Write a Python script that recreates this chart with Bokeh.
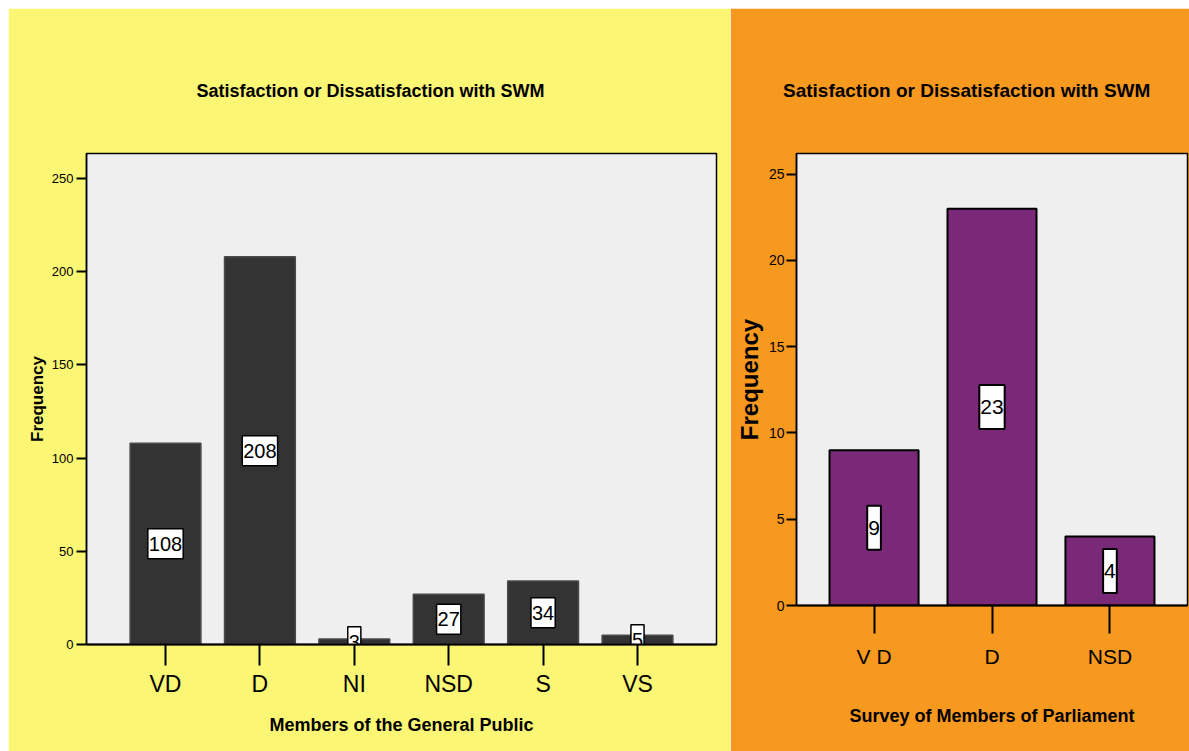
from bokeh.plotting import figure
from bokeh.models import FactorRange, Range1d, ColumnDataSource, FixedTicker, Title
from bokeh.layouts import row, column
from bokeh.embed import file_html
from bokeh.resources import INLINE
from bokeh.core.properties import value

# ---- data ----
public_cats = ["VD", "D", "NI", "NSD", "S", "VS"]
public_counts = [108, 208, 3, 27, 34, 5]
mp_cats = ["V D", "D", "NSD"]
mp_counts = [9, 23, 4]
public_yticks = [0, 50, 100, 150, 200, 250]
mp_yticks = [0, 5, 10, 15, 20, 25]
title_text = "Satisfaction or Dissatisfaction with SWM"
public_xlabel = "Members of the General Public"
mp_xlabel = "Survey of Members of Parliament"
ylabel = "Frequency"

FONT = "Liberation Sans"

YELLOW = "#FBF674"
ORANGE = "#F7981F"
FRAME_BG = "#EFEFEF"
PURPLE = "#7A2878"


def style_axes(p, xfs, yfs, xtick_out):
    p.xgrid.grid_line_color = None
    p.ygrid.grid_line_color = None
    p.outline_line_color = "black"
    p.outline_line_width = 1.5
    xa = p.xaxis[0]
    ya = p.yaxis[0]
    xa.axis_line_color = "black"
    xa.axis_line_width = 2
    xa.major_tick_line_color = "black"
    xa.major_tick_line_width = 2
    xa.major_tick_out = xtick_out
    xa.major_tick_in = 0
    xa.minor_tick_line_color = None
    xa.major_label_text_font = FONT
    xa.major_label_text_font_size = xfs
    xa.major_label_text_color = "black"
    ya.axis_line_color = "black"
    ya.axis_line_width = 1.5
    ya.major_tick_line_color = "black"
    ya.major_tick_line_width = 2
    ya.major_tick_out = 10
    ya.major_tick_in = 0
    ya.minor_tick_line_color = None
    ya.major_label_text_font = FONT
    ya.major_label_text_font_size = yfs
    ya.major_label_text_color = "black"


# ---- left: general public ----
src1 = ColumnDataSource(dict(
    cat=public_cats,
    count=public_counts,
    mid=[c / 2 for c in public_counts],
    lab=[str(c) for c in public_counts],
))

p1 = figure(
    width=722, height=743,
    x_range=FactorRange(factors=public_cats, range_padding=0.337, range_padding_units="absolute"),
    y_range=Range1d(0, 263.4),
    output_backend="svg", toolbar_location=None,
    min_border_left=78, min_border_right=14, min_border_top=145, min_border_bottom=107,
    background_fill_color=FRAME_BG, border_fill_color=YELLOW,
)
p1.title = Title(text=title_text, align="left", offset=110, standoff=106,
                 text_font=FONT, text_font_size="18px", text_font_style="bold",
                 text_color="black")
p1.vbar(x="cat", top="count", width=0.75, source=src1,
        fill_color="#333333", line_color="#4a4a4a", line_width=1.5)
p1.text(x="cat", y="mid", text="lab", source=src1,
        text_align="center", text_baseline="middle",
        text_font=value(FONT), text_font_size="20px", text_color="black",
        background_fill_color="white", border_line_color="black", border_line_width=1.5,
        padding=(1, 1, 8, 8))
style_axes(p1, "23px", "13px", 21)
p1.yaxis[0].ticker = FixedTicker(ticks=public_yticks)
p1.xaxis[0].major_label_standoff = 5
p1.xaxis[0].axis_label = public_xlabel
p1.xaxis[0].axis_label_text_font = FONT
p1.xaxis[0].axis_label_text_font_size = "18px"
p1.xaxis[0].axis_label_text_font_style = "bold"
p1.xaxis[0].axis_label_text_color = "black"
p1.xaxis[0].axis_label_standoff = 15
p1.yaxis[0].major_label_standoff = 3
p1.yaxis[0].axis_label = ylabel
p1.yaxis[0].axis_label_text_font = FONT
p1.yaxis[0].axis_label_text_font_size = "17px"
p1.yaxis[0].axis_label_text_font_style = "bold"
p1.yaxis[0].axis_label_text_color = "black"
p1.yaxis[0].axis_label_standoff = 2

# ---- right: members of parliament ----
src2 = ColumnDataSource(dict(
    cat=mp_cats,
    count=mp_counts,
    mid=[c / 2 for c in mp_counts],
    lab=[str(c) for c in mp_counts],
))

p2 = figure(
    width=459, height=743,
    x_range=FactorRange(factors=mp_cats, range_padding=0.1575, range_padding_units="absolute"),
    y_range=Range1d(0, 26.2),
    output_backend="svg", toolbar_location=None,
    min_border_left=66, min_border_right=2, min_border_top=145, min_border_bottom=146,
    background_fill_color=FRAME_BG, border_fill_color=ORANGE,
)
p2.title = Title(text=title_text, align="left", offset=-13.5, standoff=106,
                 text_font=FONT, text_font_size="19px", text_font_style="bold",
                 text_color="black")
p2.vbar(x="cat", top="count", width=0.755, source=src2,
        fill_color=PURPLE, line_color="black", line_width=2)
p2.text(x="cat", y="mid", text="lab", source=src2,
        text_align="center", text_baseline="middle",
        text_font=value(FONT), text_font_size="21px", text_color="black",
        background_fill_color="white", border_line_color="black", border_line_width=2,
        padding=(1, 1, 15, 15))
style_axes(p2, "21px", "14px", 28)
p2.yaxis[0].ticker = FixedTicker(ticks=mp_yticks)
p2.xaxis[0].major_label_standoff = 11
p2.xaxis[0].axis_label = mp_xlabel
p2.xaxis[0].axis_label_text_font = FONT
p2.xaxis[0].axis_label_text_font_size = "18px"
p2.xaxis[0].axis_label_text_font_style = "bold"
p2.xaxis[0].axis_label_text_color = "black"
p2.xaxis[0].axis_label_standoff = 35
p2.yaxis[0].major_label_standoff = 2
p2.yaxis[0].axis_label = ylabel
p2.yaxis[0].axis_label_text_font = FONT
p2.yaxis[0].axis_label_text_font_size = "24px"
p2.yaxis[0].axis_label_text_font_style = "bold"
p2.yaxis[0].axis_label_text_color = "black"
p2.yaxis[0].axis_label_standoff = 3

layout = row(column(p1), column(p2), margin=(8, 0, 0, 8))
open("out.html", "w").write(file_html(layout, INLINE))
